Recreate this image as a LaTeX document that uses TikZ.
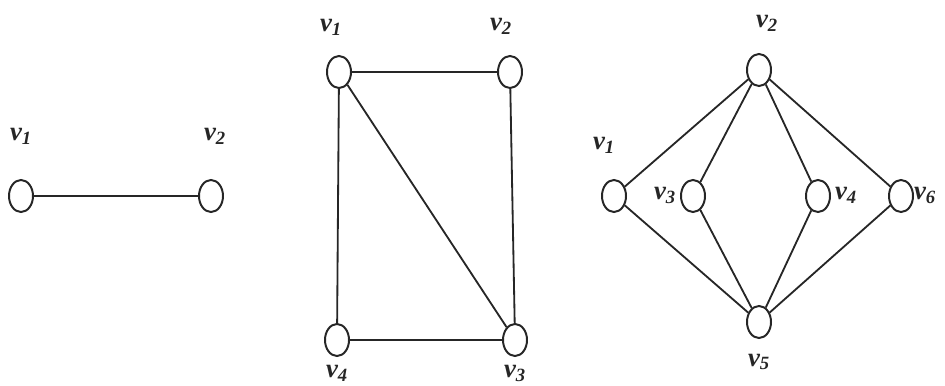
\documentclass[tikz,border=0pt]{standalone}
\usepackage{fontspec}
\setmainfont{Liberation Serif}
\usetikzlibrary{shapes.geometric}
\definecolor{cink}{HTML}{262626}
\tikzset{
  every picture/.style={line width=1.3pt},
  vert/.style={ellipse, draw=cink, line width=1.4pt, minimum width=0.6cm, minimum height=0.8cm, inner sep=0pt},
  edge/.style={draw=cink, line width=1.3pt},
  vlabel/.style={font=\fontsize{19}{22}\selectfont\bfseries\itshape, text=cink, inner sep=0pt},
}

\begin{document}
\begin{tikzpicture}[x=0.025cm, y=-0.025cm]
  \useasboundingbox (0,0) rectangle (945,386);
  % first graph: one edge
  \node[vert] (a1) at (21,196) {};
  \node[vert] (a2) at (211,196) {};
  \node[vlabel] (la1) at (21,136) {v\textsubscript{1}};
  \node[vlabel] (la2) at (215,136) {v\textsubscript{2}};
  \draw[edge] (a1) -- (a2);
  % second graph: four vertices
  \node[vert] (b1) at (339,72) {};
  \node[vert] (b2) at (510,72) {};
  \node[vert] (b3) at (515,340) {};
  \node[vert] (b4) at (337,340) {};
  \node[vlabel] (lb1) at (331,27) {v\textsubscript{1}};
  \node[vlabel] (lb2) at (501,26) {v\textsubscript{2}};
  \node[vlabel] (lb3) at (515,373) {v\textsubscript{3}};
  \node[vlabel] (lb4) at (337,373) {v\textsubscript{4}};
  \draw[edge] (b1) -- (b2);
  \draw[edge] (b1) -- (b4);
  \draw[edge] (b1) -- (b3);
  \draw[edge] (b2) -- (b3);
  \draw[edge] (b4) -- (b3);
  % third graph: six vertices
  \node[vert] (c1) at (614,196) {};
  \node[vert] (c2) at (759,70) {};
  \node[vert] (c3) at (693,196) {};
  \node[vert] (c4) at (818,196) {};
  \node[vert] (c5) at (759,322) {};
  \node[vert] (c6) at (901,196) {};
  \node[vlabel] (lc1) at (604,145) {v\textsubscript{1}};
  \node[vlabel] (lc2) at (767,23) {v\textsubscript{2}};
  \node[vlabel] (lc3) at (665,195) {v\textsubscript{3}};
  \node[vlabel] (lc4) at (846,195) {v\textsubscript{4}};
  \node[vlabel] (lc5) at (759,362) {v\textsubscript{5}};
  \node[vlabel] (lc6) at (925,195) {v\textsubscript{6}};
  \foreach \t in {c1,c3,c4,c6} {
    \draw[edge] (c2) -- (\t);
    \draw[edge] (c5) -- (\t);
  }
\end{tikzpicture}
\end{document}
